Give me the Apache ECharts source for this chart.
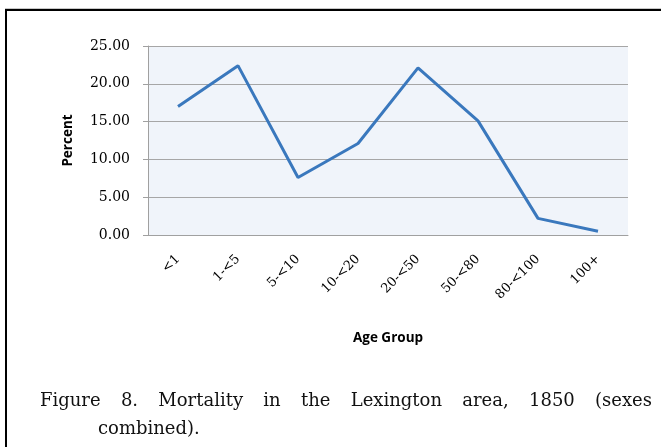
<!DOCTYPE html>
<html>
<head>
<meta charset="utf-8">
<script src="https://cdn.jsdelivr.net/npm/echarts@6/dist/echarts.min.js"></script>
<style>
  html, body { margin: 0; padding: 0; background: #fff; }
  #chart { width: 661px; height: 447px; }
</style>
</head>
<body>
<div id="chart"></div>
<script>
var ageGroups = ['<1', '1-<5', '5-<10', '10-<20', '20-<50', '50-<80', '80-<100', '100+'];
var percentDead = [17.0, 22.4, 7.6, 12.1, 22.1, 15.1, 2.2, 0.5];
var yTicks = [0, 5, 10, 15, 20, 25];

var captionLine1 = ['Figure', '8.', 'Mortality', 'in', 'the', 'Lexington', 'area,', '1850', '(sexes'];
var captionLine2 = 'combined).';

var serif = '"DejaVu Serif", serif';
var sans = '"Open Sans", sans-serif';
var captionFont = '18px ' + serif;

// justify the first caption line between its two edges
var ctx = document.createElement('canvas').getContext('2d');
ctx.font = captionFont;
var lineLeft = 40, lineRight = 652;
var widths = captionLine1.map(function(w) { return ctx.measureText(w).width; });
var total = widths.reduce(function(a, b) { return a + b; }, 0);
var gap = (lineRight - lineLeft - total) / (captionLine1.length - 1);

var graphics = [
    {type: 'rect', shape: {x: 5, y: 9, width: 656, height: 2}, style: {fill: '#000'}, silent: true},
    {type: 'rect', shape: {x: 5, y: 8, width: 656, height: 1}, style: {fill: '#c8c8c8'}, silent: true},
    {type: 'rect', shape: {x: 5, y: 9, width: 2, height: 438}, style: {fill: '#000'}, silent: true}
];
var cx = lineLeft;
for (var i = 0; i < captionLine1.length; i++) {
    graphics.push({
        type: 'text', x: cx, y: 401,
        style: {text: captionLine1[i], font: captionFont, fill: '#111', verticalAlign: 'middle'}
    });
    cx += widths[i] + gap;
}
graphics.push({
    type: 'text', x: 98, y: 429,
    style: {text: captionLine2, font: captionFont, fill: '#111', verticalAlign: 'middle'}
});

var chart = echarts.init(document.getElementById('chart'), null, {renderer: 'canvas'});
chart.setOption({
    animation: false,
    backgroundColor: '#fff',
    graphic: graphics,
    grid: {
        left: 148, right: 33, top: 46, bottom: 212,
        show: true, backgroundColor: '#f0f4fa', borderWidth: 0
    },
    xAxis: {
        type: 'category',
        data: ageGroups,
        name: 'Age Group',
        nameLocation: 'middle',
        nameGap: 96,
        nameTextStyle: {fontFamily: sans, fontWeight: 'bold', fontSize: 13.5, color: '#000'},
        axisLine: {lineStyle: {color: '#a0a0a0', width: 1}},
        axisTick: {length: 5, lineStyle: {color: '#a0a0a0'}},
        axisLabel: {rotate: 45, margin: 22, fontFamily: serif, fontSize: 13, color: '#000', interval: 0}
    },
    yAxis: {
        type: 'value',
        min: yTicks[0],
        max: yTicks[yTicks.length - 1],
        interval: yTicks[1] - yTicks[0],
        name: 'Percent',
        nameLocation: 'middle',
        nameGap: 73,
        nameTextStyle: {fontFamily: sans, fontWeight: 'bold', fontSize: 13.5, color: '#000'},
        axisLine: {show: true, lineStyle: {color: '#a0a0a0', width: 1}},
        axisTick: {show: true, length: 5, lineStyle: {color: '#a0a0a0'}},
        axisLabel: {
            margin: 18, fontFamily: serif, fontSize: 14, color: '#000',
            formatter: function(v) { return v.toFixed(2); }
        },
        splitLine: {lineStyle: {color: '#a6a6a6', width: 1}}
    },
    series: [{
        name: 'Percent',
        type: 'line',
        data: percentDead,
        symbol: 'none',
        lineStyle: {color: '#3a78bd', width: 3},
        itemStyle: {color: '#3a78bd'}
    }]
});
</script>
</body>
</html>
